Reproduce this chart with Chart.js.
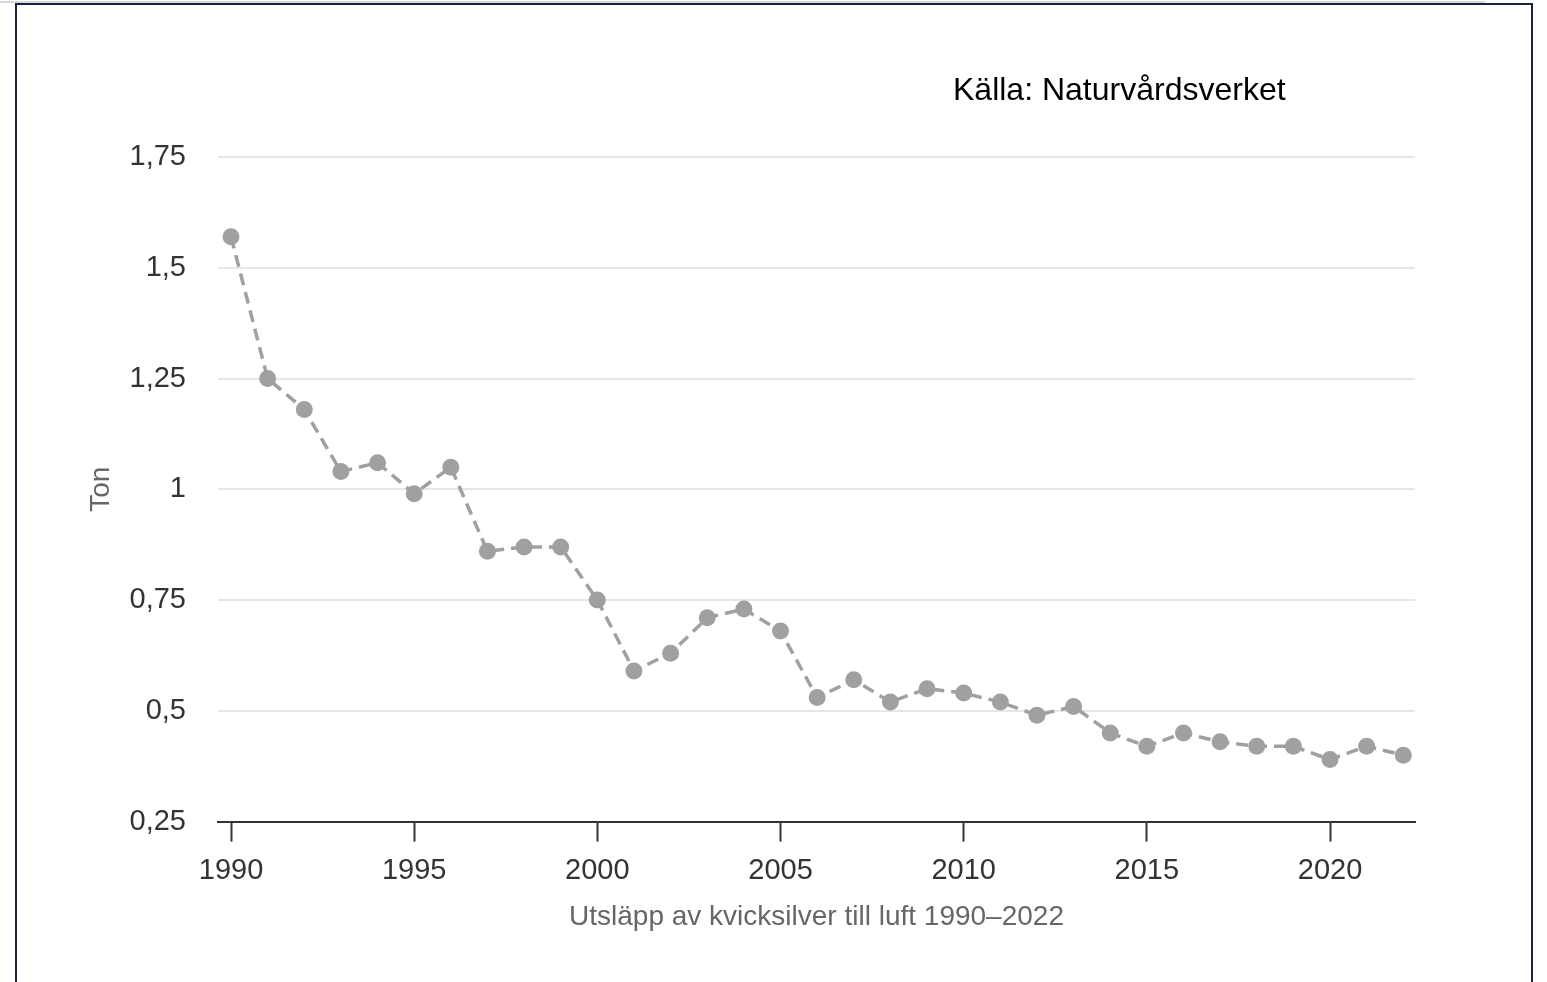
<!DOCTYPE html>
<html lang="sv">
<head>
<meta charset="utf-8">
<title>Utsläpp av kvicksilver till luft 1990–2022</title>
<script src="https://cdn.jsdelivr.net/npm/chart.js@4/dist/chart.umd.min.js"></script>
<style>
    html, body { margin: 0; padding: 0; background: #fff; }
    body { width: 1547px; height: 982px; position: relative; overflow: hidden; font-family: "Liberation Sans", Arial, sans-serif; }
    #topline { position: absolute; left: 0; top: 1px; width: 1485px; height: 2px; background: #d8d8d8; }
    #frame { position: absolute; left: 15px; top: 3px; width: 1514px; height: 1000px; border: 2px solid #1c2140; }
    #source { position: absolute; left: 953px; top: 73px; font-size: 32px; line-height: 1; color: #000; }
    #wrap { position: absolute; left: 0; top: 0; width: 1547px; height: 982px; }
</style>
</head>
<body>
<div id="topline"></div>
<div id="frame"></div>
<div id="wrap"><canvas id="chart"></canvas></div>
<div id="source">Källa: Naturvårdsverket</div>
<script>
// Utsläpp av kvicksilver till luft, ton per år
const years = [1990, 1991, 1992, 1993, 1994, 1995, 1996, 1997, 1998, 1999,
               2000, 2001, 2002, 2003, 2004, 2005, 2006, 2007, 2008, 2009,
               2010, 2011, 2012, 2013, 2014, 2015, 2016, 2017, 2018, 2019,
               2020, 2021, 2022];
const tons = [1.57, 1.25, 1.18, 1.04, 1.06, 0.99, 1.05, 0.86, 0.87, 0.87,
              0.75, 0.59, 0.63, 0.71, 0.73, 0.68, 0.53, 0.57, 0.52, 0.55,
              0.54, 0.52, 0.49, 0.51, 0.45, 0.42, 0.45, 0.43, 0.42, 0.42,
              0.39, 0.42, 0.40];

const xTicks = [1990, 1995, 2000, 2005, 2010, 2015, 2020];
const yTicks = [0.25, 0.5, 0.75, 1, 1.25, 1.5, 1.75];
const yTickLabels = ['0,25', '0,5', '0,75', '1', '1,25', '1,5', '1,75'];

const xTitle = 'Utsläpp av kvicksilver till luft 1990–2022';
const yTitle = 'Ton';

const fontFamily = '"Liberation Sans", Arial, sans-serif';

const ctx = document.getElementById('chart').getContext('2d');
const chart = new Chart(ctx, {
    type: 'line',
    data: {
        datasets: [{
            label: 'Kvicksilver',
            data: years.map((y, i) => ({ x: y, y: tons[i] })),
            borderColor: '#a0a0a0',
            backgroundColor: '#a0a0a0',
            borderWidth: 3.5,
            borderDash: [12, 7],
            pointRadius: 8.5,
            pointBorderWidth: 0,
            pointBackgroundColor: '#a0a0a0',
            tension: 0
        }]
    },
    options: {
        responsive: true,
        maintainAspectRatio: false,
        animation: false,
        layout: {
            padding: { left: 84, right: 132, top: 157, bottom: 44 }
        },
        plugins: {
            legend: { display: false },
            tooltip: { enabled: false }
        },
        scales: {
            x: {
                type: 'linear',
                min: 1989.645,
                max: 2022.32,
                afterBuildTicks: scale => {
                    scale.ticks = xTicks.map(v => ({ value: v }));
                },
                ticks: {
                    color: '#333',
                    padding: 12,
                    maxRotation: 0,
                    font: { family: fontFamily, size: 29 },
                    callback: value => String(value)
                },
                grid: {
                    drawOnChartArea: false,
                    drawTicks: true,
                    tickLength: 20,
                    tickWidth: 2,
                    tickColor: '#333'
                },
                border: { display: true, color: '#333', width: 2 },
                title: {
                    display: true,
                    text: xTitle,
                    color: '#666',
                    font: { family: fontFamily, size: 28 },
                    padding: { top: 0, bottom: 4 }
                }
            },
            y: {
                min: 0.25,
                max: 1.75,
                afterBuildTicks: scale => {
                    scale.ticks = yTicks.map(v => ({ value: v }));
                },
                afterFit: scale => {
                    scale.width = 218 - 84;
                },
                ticks: {
                    color: '#333',
                    padding: 32,
                    font: { family: fontFamily, size: 29 },
                    callback: (value, index) => yTickLabels[index]
                },
                grid: {
                    color: '#e6e6e6',
                    lineWidth: 2,
                    drawTicks: false
                },
                border: { display: false },
                title: {
                    display: true,
                    text: yTitle,
                    color: '#666',
                    font: { family: fontFamily, size: 28 },
                    padding: { top: 0, bottom: 0 }
                }
            }
        }
    }
});
</script>
</body>
</html>
